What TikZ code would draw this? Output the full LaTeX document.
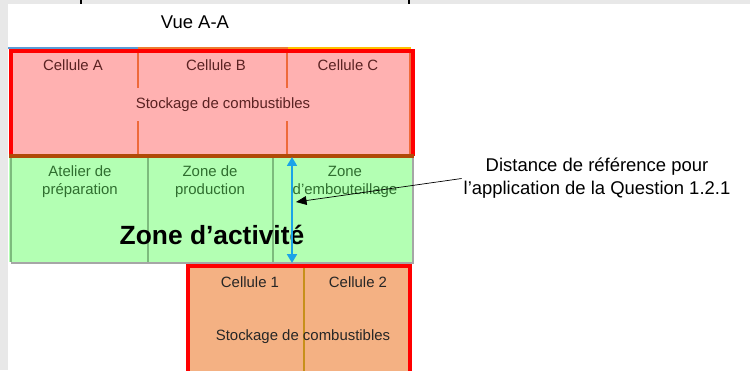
\documentclass[tikz,border=0pt]{standalone}
\usepackage{fontspec}
\setmainfont{Liberation Sans}
\usetikzlibrary{arrows.meta}

\definecolor{fondgris}{HTML}{E8E8E8}
\definecolor{rose}{HTML}{FFB1B1}
\definecolor{rouge}{HTML}{FF0000}
\definecolor{brun}{HTML}{B04A08}
\definecolor{traitrose}{HTML}{EE6A3A}
\definecolor{vert}{HTML}{B3FFB3}
\definecolor{traitvert}{HTML}{7DBB7D}
\definecolor{textevert}{HTML}{2F6E2F}
\definecolor{orangec}{HTML}{F4B183}
\definecolor{traitor}{HTML}{C8901A}
\definecolor{cyan}{HTML}{1AA3E8}
\definecolor{textebrun}{HTML}{5A2222}
\definecolor{bleuhaut}{HTML}{5B9BD5}
\definecolor{orangehaut}{HTML}{ED7D31}
\definecolor{jaunehaut}{HTML}{FFC000}

\tikzset{
  txt/.style={inner sep=0pt, font=\fontsize{8.5}{10.3}\selectfont, align=center},
  cellrose/.style={txt, text=textebrun},
  cellvert/.style={txt, text=textevert},
  cellor/.style={txt, text=black!85},
}

\begin{document}
\begin{tikzpicture}[x=0.02cm, y=-0.02cm]
    \useasboundingbox (0,0) rectangle (750,370);
    \fill[fondgris] (0,0) rectangle (750,370);
    \fill[white] (8,4) rectangle (750,370);
    \draw[semithick] (81,0) -- (81,4);
    \draw[semithick] (409,0) -- (409,4);

    \node[inner sep=0pt, font=\fontsize{10.5}{12}\selectfont] (vue) at (195,22) {Vue A-A};

    % stockage du haut
    \draw[line width=1.1pt, color=bleuhaut] (8,48) -- (138,48);
    \draw[line width=1.1pt, color=orangehaut] (138,48) -- (288,48);
    \draw[line width=1.1pt, color=jaunehaut] (288,48) -- (411,48);
    \fill[rose] (10,50) rectangle (413,156);
    \draw[semithick, color=traitrose] (138,51) -- (138,88) (138,121) -- (138,155);
    \draw[semithick, color=traitrose] (287,51) -- (287,88) (287,121) -- (287,155);
    \draw[semithick, color=traitrose] (410,51) -- (410,155);
    \draw[line width=2.2pt, color=rouge] (11,154) -- (11,51) -- (413,51) -- (413,156);
    \draw[line width=2pt, color=brun] (9,156) -- (414,156);

    \node[cellrose] (celA) at (73,65) {Cellule A};
    \node[cellrose] (celB) at (216,65) {Cellule B};
    \node[cellrose] (celC) at (348,65) {Cellule C};
    \node[cellrose] (stockH) at (223,105) {Stockage de combustibles};

    % zone d'activite
    \fill[vert] (9,158) rectangle (413,262);
    \draw[thick, color=traitvert] (11,158) -- (11,262);
    \draw[thick, color=traitvert] (148,158) -- (148,262);
    \draw[thick, color=traitvert] (273,158) -- (273,262);
    \draw[thick, color=gray!70] (11,263) -- (413,263) -- (413,158);

    \node[cellvert] (atelier) at (80,182) {Atelier de\\préparation};
    \node[cellvert] (prod) at (210,182) {Zone de\\production};
    \node[cellvert] (embout) at (345,182) {Zone\\d’embouteillage};
    \node[inner sep=0pt, font=\fontsize{15}{18}\bfseries] (activite) at (212,235) {Zone d’activité};

    % stockage du bas
    \fill[orangec] (187,266) rectangle (410,372);
    \draw[semithick, color=traitor] (304,267) -- (304,372);
    \draw[line width=2.2pt, color=rouge] (188,372) -- (188,266) -- (410,266) -- (410,372);
    \node[cellor] (cel1) at (250,282) {Cellule 1};
    \node[cellor] (cel2) at (358,282) {Cellule 2};
    \node[cellor] (stockB) at (303,337) {Stockage de combustibles};

    % distance de reference
    \coordinate (hautD) at (292,157);
    \coordinate (basD) at (292,263);
    \draw[line width=1.6pt, color=cyan, {Triangle[length=5pt,width=5.5pt]}-{Triangle[length=5pt,width=5.5pt]}] (hautD) -- (basD);

    \node[inner sep=0pt, align=center, font=\fontsize{10.5}{13.2}\selectfont] (note) at (597,178.5)
        {Distance de référence pour\\l’application de la Question 1.2.1};
    \coordinate (pointe) at (296,202);
    \draw[thin, -{Triangle[length=6pt,width=5pt]}] ([xshift=-1pt]note.west) -- (pointe);

\end{tikzpicture}
\end{document}
